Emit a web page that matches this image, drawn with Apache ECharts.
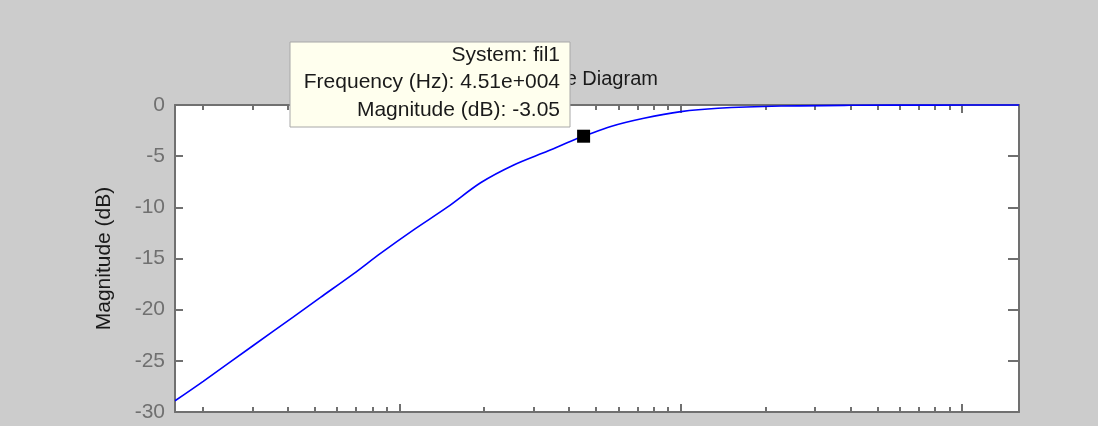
<!DOCTYPE html>
<html>
<head>
<meta charset="utf-8">
<script src="https://cdn.jsdelivr.net/npm/echarts@6/dist/echarts.min.js"></script>
<style>
html,body{margin:0;padding:0;background:#cccccc;}
#chart{width:1098px;height:426px;}
</style>
</head>
<body>
<div id="chart"></div>
<script>
// Frequency (Hz) and magnitude (dB)
const freqHz = [1592, 2005, 3020, 4196, 5236, 6855, 8556, 11216, 14830, 19410, 25470, 33650, 42970, 45100, 56360, 73860, 100000, 135500, 227000, 400000, 800000, 1591549];
const magDb  = [-28.9, -27.0, -23.5, -20.7, -18.8, -16.5, -14.5, -12.2, -9.96, -7.6, -5.86, -4.5, -3.25, -3.05, -2.1, -1.3, -0.65, -0.32, -0.1, -0.03, -0.01, 0];

// Data tip
const tipPoint = [45100, -3.05];
const tipLines = ['System: fil1', 'Frequency (Hz): 4.51e+004', 'Magnitude (dB): -3.05'];

// Axis ticks
const xMin = 1591.5, xMax = 1591549;
const majorTicks = [10000, 100000, 1000000];
const minorTicks = [2000,3000,4000,5000,6000,7000,8000,9000,
                    20000,30000,40000,50000,60000,70000,80000,90000,
                    200000,300000,400000,500000,600000,700000,800000,900000];
const yTicks = [-30, -25, -20, -15, -10, -5, 0];
const titleText = 'Bode Diagram';
const yName = 'Magnitude (dB)';

const FONT = 'Liberation Sans, Arial, sans-serif';
const AX = '#707070';

function xAx(pos, ticks, len, showLine) {
  return {
    type: 'log', min: xMin, max: xMax, position: pos,
    axisLine: { show: showLine, onZero: false, lineStyle: { color: AX, width: 2 } },
    axisTick: { show: true, inside: true, length: len, customValues: ticks, lineStyle: { color: AX, width: 2 } },
    axisLabel: { show: false },
    splitLine: { show: false }, minorTick: { show: false }
  };
}

const chart = echarts.init(document.getElementById('chart'), null, { renderer: 'canvas' });
chart.setOption({
  backgroundColor: '#cccccc',
  animation: false,
  grid: { left: 175, top: 105, width: 844, height: 307, show: true, backgroundColor: '#ffffff', borderWidth: 0 },
  xAxis: [
    xAx('bottom', majorTicks, 8, true),
    xAx('bottom', minorTicks, 5, false),
    xAx('top', majorTicks, 8, true),
    xAx('top', minorTicks, 5, false)
  ],
  yAxis: [
    {
      type: 'value', min: -30, max: 0, interval: 5, position: 'left',
      name: yName, nameLocation: 'middle', nameRotate: 90, nameGap: 60,
      nameTextStyle: { color: '#1a1a1a', fontSize: 21, fontFamily: FONT },
      axisLine: { show: true, lineStyle: { color: AX, width: 2 } },
      axisTick: { show: true, inside: true, length: 8, customValues: yTicks, lineStyle: { color: AX, width: 2 } },
      axisLabel: { color: '#707070', fontSize: 21, fontFamily: FONT, margin: 10, customValues: yTicks },
      splitLine: { show: false }
    },
    {
      type: 'value', min: -30, max: 0, interval: 5, position: 'right',
      axisLine: { show: true, lineStyle: { color: AX, width: 2 } },
      axisTick: { show: true, inside: true, length: 11, customValues: yTicks, lineStyle: { color: AX, width: 2 } },
      axisLabel: { show: false },
      splitLine: { show: false }
    }
  ],
  series: [
    {
      type: 'line', xAxisIndex: 0, yAxisIndex: 0,
      data: freqHz.map((f, i) => [f, magDb[i]]),
      showSymbol: false, symbol: 'none', clip: false, z: 3,
      smooth: 0.3,
      lineStyle: { color: '#0000ff', width: 1.6 }
    },
    {
      type: 'scatter', xAxisIndex: 0, yAxisIndex: 0,
      data: [tipPoint], symbol: 'rect', symbolSize: 13, z: 4,
      itemStyle: { color: '#000000', opacity: 1 }
    }
  ],
  graphic: [
    {
      type: 'text', x: 594, y: 79, z: 50,
      style: { text: titleText, fill: '#1a1a1a', font: '20px ' + FONT, textAlign: 'center', textVerticalAlign: 'middle' }
    },
    {
      type: 'rect', z: 100,
      shape: { x: 290, y: 42, width: 280, height: 85 },
      style: { fill: '#ffffee', stroke: '#a8a8a8', lineWidth: 1 }
    },
    ...tipLines.map((t, i) => ({
      type: 'text', x: 560, y: 55 + i * 27.5, z: 101,
      style: { text: t, fill: '#1a1a1a', font: '21px ' + FONT, textAlign: 'right', textVerticalAlign: 'middle' }
    }))
  ]
});
</script>
</body>
</html>
